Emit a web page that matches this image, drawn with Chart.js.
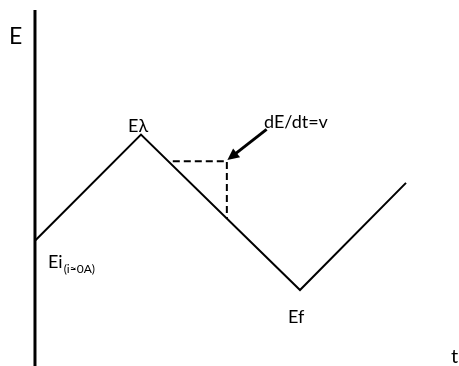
<!DOCTYPE html>
<html>
<head>
<meta charset="utf-8">
<script src="https://cdn.jsdelivr.net/npm/chart.js@4"></script>
<style>
  body { margin: 0; background: #fff; }
  canvas { display: block; }
</style>
</head>
<body>
<canvas id="myChart" width="459" height="366"></canvas>
<script>
// potencial aplicado (E) em função do tempo (t) - varredura triangular
let tempo = [0, 2, 5, 7]
let potencial = [2, 4, 1.07, 3.09]

// triângulo tracejado da inclinação dE/dt
let tracoT = [2.6, 3.62, 3.62]
let tracoE = [3.5, 3.5, 2.42]

// seta apontando para o triângulo (início -> ponta)
let setaT = [4.37, 3.63]
let setaE = [4.10, 3.52]

// eixo vertical E
let eixoT = [0, 0]
let eixoE = [-0.4, 6.35]

let rotulos = ['E', 'Eλ', 'dE/dt=v', 'Ei', 'Ef', 't']

function pontos(xs, ys) {
    return xs.map((x, i) => ({ x: x, y: ys[i] }))
}

// plugin simples pra seta e textos
let extras = {
    id: 'extras',
    afterDatasetsDraw(chart) {
        let ctx = chart.ctx
        let sx = chart.scales.x
        let sy = chart.scales.y

        // seta
        let x1 = sx.getPixelForValue(setaT[0]), y1 = sy.getPixelForValue(setaE[0])
        let x2 = sx.getPixelForValue(setaT[1]), y2 = sy.getPixelForValue(setaE[1])
        let ang = Math.atan2(y2 - y1, x2 - x1)
        let head = 13
        ctx.save()
        ctx.strokeStyle = '#000'
        ctx.fillStyle = '#000'
        ctx.lineWidth = 3
        ctx.beginPath()
        ctx.moveTo(x1, y1)
        ctx.lineTo(x2 - Math.cos(ang) * head * 0.8, y2 - Math.sin(ang) * head * 0.8)
        ctx.stroke()
        ctx.beginPath()
        ctx.moveTo(x2, y2)
        ctx.lineTo(x2 - head * Math.cos(ang - 0.45), y2 - head * Math.sin(ang - 0.45))
        ctx.lineTo(x2 - head * Math.cos(ang + 0.45), y2 - head * Math.sin(ang + 0.45))
        ctx.closePath()
        ctx.fill()

        // textos
        ctx.textBaseline = 'alphabetic'
        ctx.textAlign = 'left'
        ctx.font = '23px Lato'
        ctx.fillText(rotulos[0], 9, 44)
        ctx.font = '18px Lato'
        ctx.fillText(rotulos[1], 128, 132)
        ctx.fillText(rotulos[2], 264, 128)
        ctx.fillText(rotulos[3], 48, 268)
        let w = ctx.measureText(rotulos[3]).width
        ctx.font = '12px Lato'
        ctx.fillText('(i≈0A)', 48 + w + 1, 273)
        ctx.font = '18px Lato'
        ctx.fillText(rotulos[4], 288, 323)
        ctx.font = '20px Lato'
        ctx.fillText(rotulos[5], 451, 363)
        ctx.restore()
    }
}

function desenha() {
    let myChart = document.getElementById('myChart').getContext('2d')

    let grafico = new Chart(myChart, {
        type: 'scatter',
        data: {
            datasets: [
                {
                    label: 'eixo',
                    data: pontos(eixoT, eixoE),
                    showLine: true,
                    borderColor: '#000',
                    borderWidth: 3,
                    pointRadius: 0
                },
                {
                    label: 'E(t)',
                    data: pontos(tempo, potencial),
                    showLine: true,
                    borderColor: '#000',
                    borderWidth: 2,
                    pointRadius: 0
                },
                {
                    label: 'dE/dt',
                    data: pontos(tracoT, tracoE),
                    showLine: true,
                    borderColor: '#000',
                    borderWidth: 2,
                    borderDash: [7, 4],
                    pointRadius: 0
                }
            ]
        },
        options: {
            responsive: false,
            animation: false,
            layout: { padding: 0 },
            plugins: {
                legend: { display: false },
                tooltip: { enabled: false }
            },
            scales: {
                x: { type: 'linear', min: -0.66, max: 8, display: false },
                y: { type: 'linear', min: -0.364, max: 6.54, display: false }
            }
        },
        plugins: [extras]
    });
}

Promise.all([
    document.fonts.load('18px Lato'),
    document.fonts.load('12px Lato')
]).then(desenha, desenha)
</script>
</body>
</html>
